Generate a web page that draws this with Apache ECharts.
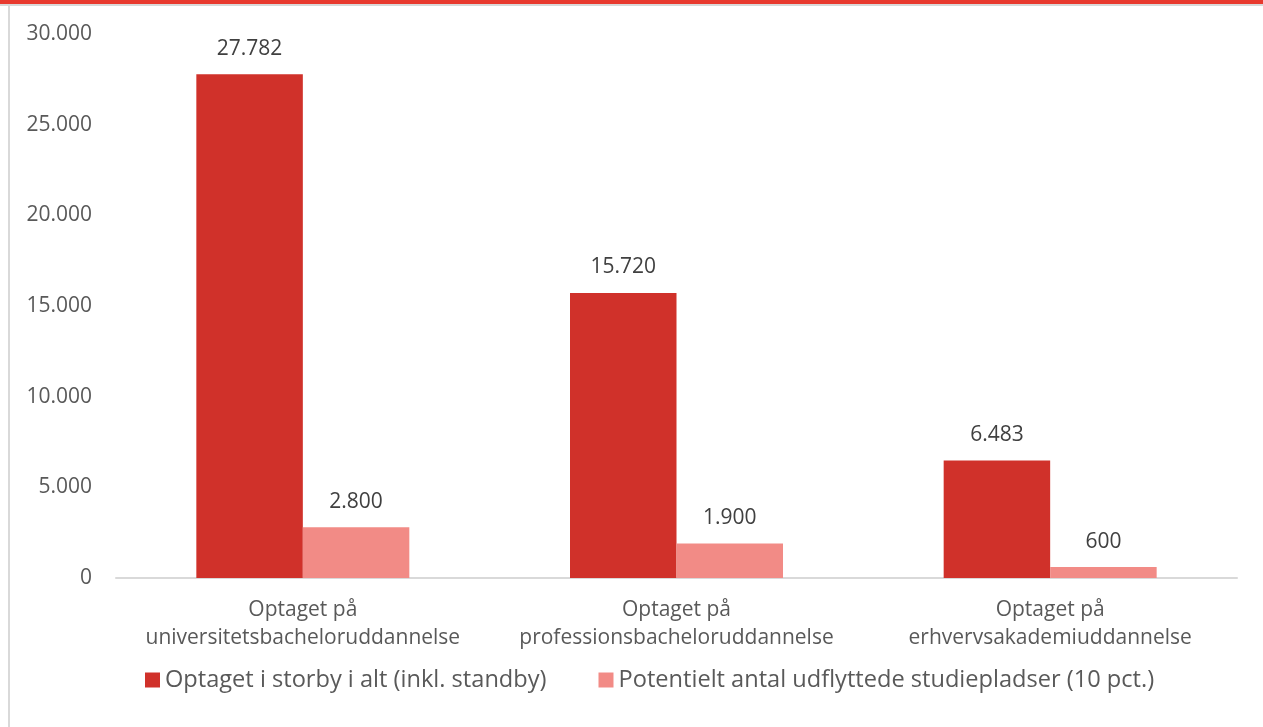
<!DOCTYPE html>
<html><head><meta charset="utf-8">
<script src="https://cdn.jsdelivr.net/npm/echarts@6/dist/echarts.min.js"></script>
<style>html,body{margin:0;padding:0;background:#fff}#c{width:1263px;height:727px}</style>
</head><body><div id="c"></div>
<script>
const categories = ['Optaget på\nuniversitetsbacheloruddannelse','Optaget på\nprofessionsbacheloruddannelse','Optaget på\nerhvervsakademiuddannelse'];
const seriesNames = ['Optaget i storby i alt (inkl. standby)','Potentielt antal udflyttede studiepladser (10 pct.)'];
const totalValues = [27782, 15720, 6483];
const movedValues = [2800, 1900, 600];
const yTicks = [0, 5000, 10000, 15000, 20000, 25000, 30000];

const fmt = v => String(v).replace(/\B(?=(\d{3})+(?!\d))/g, '.');
const font = '"Open Sans", sans-serif';
const txt = '#595959';
const chart = echarts.init(document.getElementById('c'));
chart.setOption({
  animation: false,
  textStyle: {fontFamily: font},
  graphic: [
    {type:'rect', shape:{x:0,y:0,width:1263,height:4}, style:{fill:'#E8392E'}},
    {type:'rect', shape:{x:0,y:4,width:1263,height:2}, style:{fill:'#d8d8d8'}},
    {type:'rect', shape:{x:8,y:6,width:2,height:721}, style:{fill:'#d9d9d9'}}
  ],
  legend: {
    bottom: 30, left: 140, itemGap: 52, itemWidth: 15, itemHeight: 15, itemStyle: {borderWidth: 0},
    icon: 'rect',
    textStyle: {fontSize: 23.6, color: txt, fontFamily: font},
    data: seriesNames
  },
  grid: {left: 116, right: 26, top: 34, bottom: 149},
  xAxis: {
    type: 'category', data: categories,
    axisLine: {lineStyle: {color: '#d9d9d9', width: 2}},
    axisTick: {show: false},
    axisLabel: {interval: 0, hideOverlap: false, fontSize: 21, color: txt, lineHeight: 28, margin: 18, fontFamily: font}
  },
  yAxis: {
    type: 'value', min: yTicks[0], max: yTicks[yTicks.length-1], interval: 5000,
    splitLine: {show: false}, axisLine: {show: false}, axisTick: {show: false},
    axisLabel: {fontSize: 21, color: txt, margin: 24, formatter: v => fmt(v), fontFamily: font}
  },
  series: [
    {name: seriesNames[0], type: 'bar', data: totalValues, barGap: '0%', barCategoryGap: '43%',
     itemStyle: {color: '#D0312A'},
     label: {show: true, position: 'top', distance: 15, fontSize: 21, color: '#404040', formatter: p => fmt(p.value), fontFamily: font}},
    {name: seriesNames[1], type: 'bar', data: movedValues,
     itemStyle: {color: '#F28B86'},
     label: {show: true, position: 'top', distance: 15, fontSize: 21, color: '#404040', formatter: p => fmt(p.value), fontFamily: font}}
  ]
});
</script></body></html>
